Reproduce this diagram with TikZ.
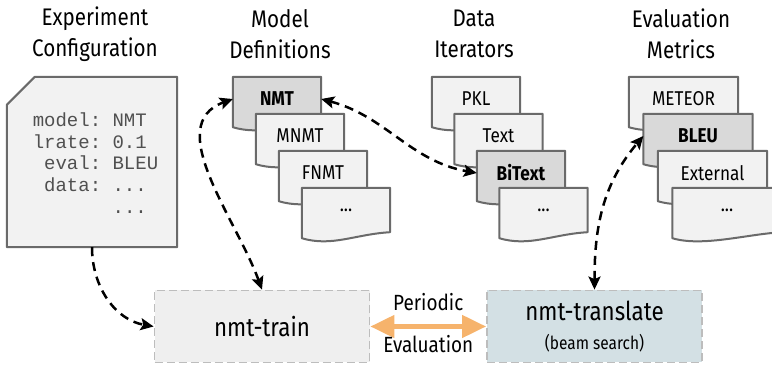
\documentclass[tikz,border=0pt]{standalone}
\usepackage{fontspec}
\setmainfont{Fira Sans}[FakeStretch=0.86]
\setmonofont{Liberation Mono}
\usetikzlibrary{arrows.meta,positioning,backgrounds}

\definecolor{docline}{HTML}{6A6A6A}
\definecolor{docfill}{HTML}{F2F2F2}
\definecolor{docdark}{HTML}{D9D9D9}
\definecolor{codegray}{HTML}{505050}
\definecolor{boxline}{HTML}{BDBDBD}
\definecolor{trainfill}{HTML}{EFEFEF}
\definecolor{transfill}{HTML}{D3E0E4}
\definecolor{evalarrow}{HTML}{F6B36C}

\begin{document}
\begin{tikzpicture}[x=1pt,y=1pt,>={Stealth[length=13pt,width=12pt,inset=2.5pt]},
    title/.style={align=center,font=\fontsize{24}{31}\selectfont},
    doc/.style={minimum width=88pt,minimum height=44pt,inner sep=0pt,font=\fontsize{20}{24}\selectfont},
    wide doc/.style={doc,minimum width=109pt},
    tool/.style={draw=boxline,line width=1.8pt,dash pattern=on 8pt off 4pt,
                 minimum width=215pt,minimum height=72pt,align=center},
    link/.style={black,line width=2.5pt,dash pattern=on 9pt off 6pt}]

                \useasboundingbox (0,0) rectangle (772,366);

                % column titles
                \node[title] (cfgtitle) at (95,332) {Experiment\\Configuration};
                \node[title] (modtitle) at (280,332) {Model\\Definitions};
                \node[title] (dattitle) at (474,332) {Data\\Iterators};
                \node[title] (mettitle) at (681,332) {Evaluation\\Metrics};

                % configuration file
                \node[minimum width=170pt,minimum height=170pt] (cfg) at (92,204) {};
                \node[font=\ttfamily\fontsize{19}{21.7}\selectfont,align=left,text=codegray] (cfgtxt) at (95.5,203)
                    {model: NMT\\lrate: 0.1\\\phantom{x}eval: BLEU\\\phantom{x}data: ...\\\phantom{xxxxxxx}...};

                % models
                \node[doc] (nmt) at (277,267) {\textbf{NMT}};
                \node[doc] (mnmt) at ([shift={(23,-37)}]nmt.center) {MNMT};
                \node[doc] (fnmt) at ([shift={(23,-37)}]mnmt.center) {FNMT};
                \node[doc] (mdots) at ([shift={(23,-37)}]fnmt.center) {...};

                % iterators
                \node[doc] (pkl) at (476,267) {PKL};
                \node[doc] (text) at ([shift={(22.5,-37)}]pkl.center) {Text};
                \node[doc] (bitext) at ([shift={(22.5,-37)}]text.center) {\textbf{BiText}};
                \node[doc] (ddots) at ([shift={(22.5,-37)}]bitext.center) {...};

                % metrics
                \node[wide doc] (meteor) at (683.5,267) {METEOR};
                \node[wide doc] (bleu) at ([shift={(14.5,-37)}]meteor.center) {\textbf{BLEU}};
                \node[wide doc] (external) at ([shift={(14.5,-37)}]bleu.center) {External};
                \node[wide doc] (edots) at ([shift={(14.5,-37)}]external.center) {...};

                \begin{scope}[on background layer]
                    \filldraw[draw=docline,fill=docfill,line width=2pt,line join=round]
                        (cfg.south west) -- ([yshift=-28pt]cfg.north west) -- ([xshift=28pt]cfg.north west)
                        -- (cfg.north east) -- (cfg.south east) -- cycle;
                    \foreach \n/\c in {nmt/docdark, mnmt/docfill, fnmt/docfill, mdots/docfill,
                                       pkl/docfill, text/docfill, bitext/docdark, ddots/docfill,
                                       meteor/docfill, bleu/docdark, external/docfill, edots/docfill}
                    {
                    \filldraw[draw=docline,fill=\c,line width=2pt,line join=round]
                        (\n.north west) -- (\n.north east) -- (\n.south east)
                        .. controls +(-35,-2) and +(30,-9) .. ([yshift=-6pt]\n.south west) -- cycle;
                    }
                \end{scope}

                % tools
                \node[tool,fill=trainfill,font=\fontsize{26}{30}\selectfont] (train) at (262,39.5) {nmt-train};
                \node[tool,fill=transfill] (translate) at (594.5,39.5)
                    {\fontsize{26}{30}\selectfont nmt-translate\\[12pt]\fontsize{18}{22}\selectfont (beam search)};

                \draw[{Triangle[length=24pt,width=22pt]}-{Triangle[length=24pt,width=22pt]},line width=4.5pt,evalarrow]
                    (train) -- (translate)
                    node[midway,yshift=24pt,text=black,font=\fontsize{22}{26}\selectfont] {Periodic}
                    node[midway,yshift=-18pt,text=black,font=\fontsize{22}{26}\selectfont] {Evaluation};

                \foreach \from/\to/\o/\i in {train.north/nmt.west/110/200, nmt.east/bitext.west/-15/170, translate.north/bleu.west/90/230}
                    {
                    \path[<->] (\from) edge[link,out=\o,in=\i] (\to);
                    }

                \path[->] (cfg.south) edge[link,out=-90,in=170] (train.west);

\end{tikzpicture}
\end{document}
